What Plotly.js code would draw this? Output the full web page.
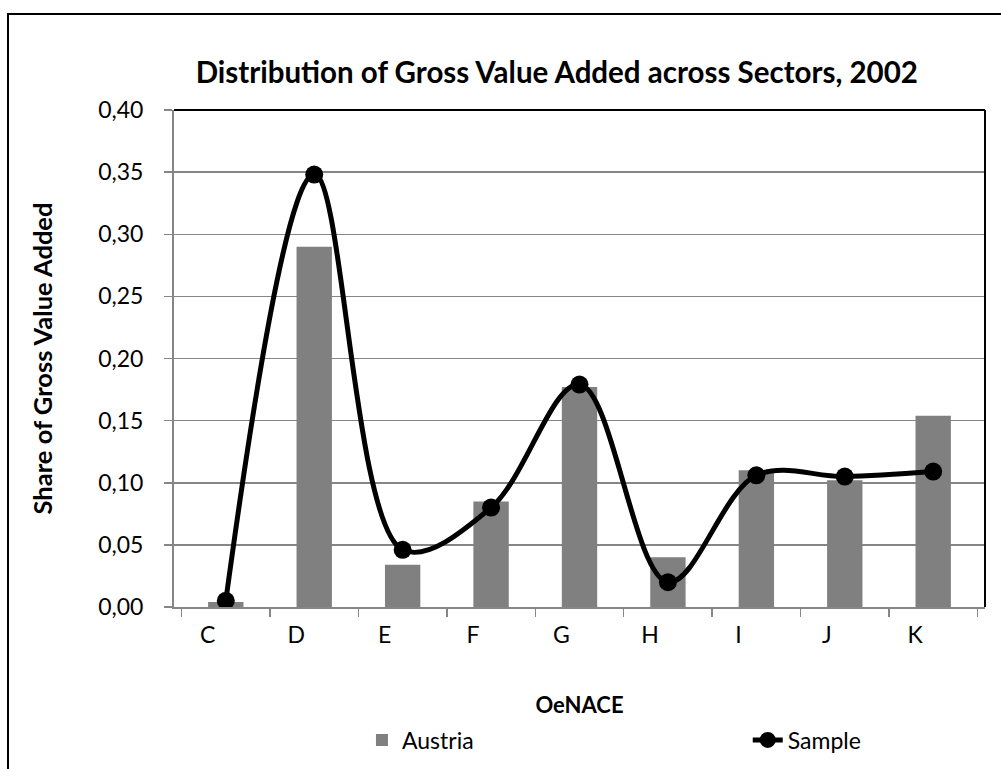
<!DOCTYPE html>
<html>
<head>
<meta charset="utf-8">
<script src="https://cdn.plot.ly/plotly-3.0.1.min.js"></script>
<style>
  html, body { margin: 0; padding: 0; background: #fff; overflow: hidden; }
  #frame { position: absolute; left: 7px; top: 13px; width: 1100px; height: 900px; border: 2px solid #000; box-sizing: border-box; }
  #chart { position: absolute; left: 0; top: 0; width: 1001px; height: 769px; }
</style>
</head>
<body>
<div id="frame"></div>
<div id="chart"></div>
<script>
const categories = ['C', 'D', 'E', 'F', 'G', 'H', 'I', 'J', 'K'];
const austria = [0.004, 0.290, 0.034, 0.085, 0.177, 0.040, 0.110, 0.102, 0.154];
const sample  = [0.005, 0.348, 0.046, 0.080, 0.179, 0.020, 0.106, 0.105, 0.109];
const yTicks = [0, 0.05, 0.10, 0.15, 0.20, 0.25, 0.30, 0.35, 0.40];

const FONT = 'Lato, "Open Sans", sans-serif';

const traces = [
  {
    type: 'bar', name: 'Austria', x: categories, y: austria,
    marker: { color: '#808080' }, legend: 'legend', hoverinfo: 'x+y'
  },
  {
    type: 'scatter', mode: 'lines+markers', name: 'Sample', x: categories, y: sample,
    line: { color: '#000', width: 5, shape: 'spline', smoothing: 1 },
    marker: { color: '#000', size: 18 }, legend: 'legend2', hoverinfo: 'x+y'
  }
];

const layout = {
  width: 1001, height: 769,
  paper_bgcolor: 'rgba(0,0,0,0)', plot_bgcolor: '#fff',
  margin: { l: 174, r: 16, t: 110, b: 162 },
  separators: ',.',
  font: { family: FONT, color: '#000', size: 23 },
  bargap: 0.6,
  showlegend: true,
  title: {
    text: '<b>Distribution of Gross Value Added across Sectors, 2002</b>',
    font: { family: FONT, size: 29.5, color: '#000' },
    xref: 'paper', x: 0.472, xanchor: 'center',
    yref: 'container', y: 0.905, yanchor: 'middle'
  },
  xaxis: {
    type: 'category',
    showline: true, linecolor: '#868686', linewidth: 2,
    ticks: 'outside', ticklen: 8, tickcolor: '#868686', tickwidth: 1.5,
    tickson: 'boundaries',
    showgrid: false,
    tickfont: { family: FONT, size: 23, color: '#000' },
    ticklabelstandoff: 6,
    ticklabelshift: -18,
    title: { text: '<b>OeNACE</b>', font: { family: FONT, size: 22, color: '#000' }, standoff: 51 }
  },
  yaxis: {
    range: [0, 0.40],
    tickvals: yTicks, tickformat: '.2f',
    showline: true, linecolor: '#868686', linewidth: 2,
    ticks: 'outside', ticklen: 8, tickcolor: '#868686', tickwidth: 1.5,
    showgrid: true, gridcolor: '#868686', gridwidth: 1.5,
    zeroline: false,
    tickfont: { family: FONT, size: 23, color: '#000' },
    ticklabelstandoff: 16,
    title: { text: '<b>Share of Gross Value Added</b>', font: { family: FONT, size: 25.5, color: '#000' }, standoff: 38 }
  },
  legend: {
    orientation: 'h', xref: 'container', yref: 'container',
    x: 0.3616, xanchor: 'left', y: 0.0377, yanchor: 'middle',
    font: { family: FONT, size: 23, color: '#000' }, bgcolor: 'rgba(0,0,0,0)'
  },
  legend2: {
    orientation: 'h', xref: 'container', yref: 'container',
    x: 0.747, xanchor: 'left', y: 0.0377, yanchor: 'middle',
    font: { family: FONT, size: 23, color: '#000' }, bgcolor: 'rgba(0,0,0,0)'
  },
  shapes: [
    { type: 'line', xref: 'paper', yref: 'paper', x0: 0, x1: 1, y0: 1, y1: 1, line: { color: '#000', width: 2 } },
    { type: 'line', xref: 'paper', yref: 'paper', x0: 1, x1: 1, y0: 0, y1: 1, line: { color: '#000', width: 2 } }
  ]
};

Plotly.newPlot('chart', traces, layout, { displayModeBar: false, staticPlot: true });
</script>
</body>
</html>
